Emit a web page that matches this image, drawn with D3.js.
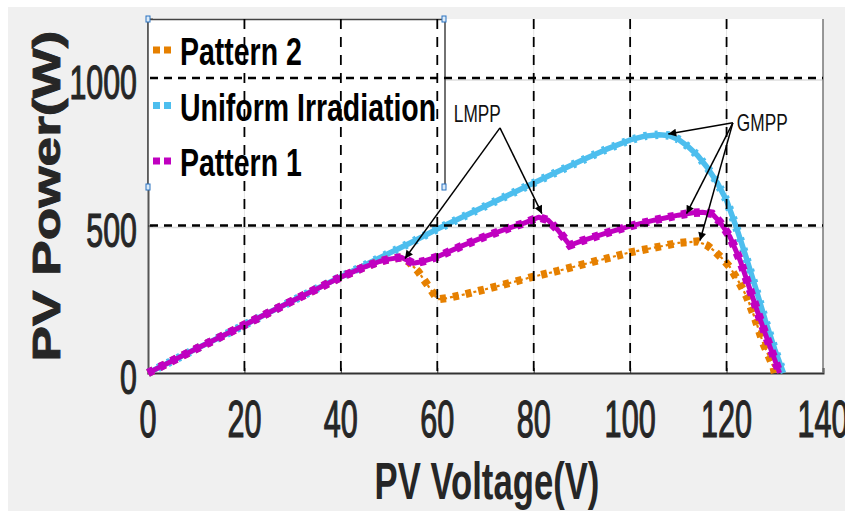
<!DOCTYPE html>
<html>
<head>
<meta charset="utf-8">
<script src="https://cdn.jsdelivr.net/npm/d3@7"></script>
<style>
  html, body { margin: 0; padding: 0; background: #fff; }
  svg { display: block; font-family: "Liberation Sans", Arial, sans-serif; }
</style>
</head>
<body>
<svg id="chart" width="845" height="511"></svg>
<script>
// Assi
const xTicks = [0, 20, 40, 60, 80, 100, 120, 140];
const yTicks = [0, 500, 1000];
const refX = [20, 40, 60, 80, 100, 120];   // linee tratteggiate verticali
const refY = [500, 1000];                  // linee tratteggiate orizzontali

// Uniform Irradiation
const uniformV = [0, 5, 10, 15, 20, 25, 30, 35, 40, 45, 50, 55, 60, 65, 70, 75, 80, 85, 90, 95, 100, 103, 106, 108, 110, 112, 114, 116, 118, 120, 122, 124, 126, 128, 130, 131.8];
const uniformP = [0, 41, 82, 122, 163, 204, 245, 286, 326, 366, 406, 446, 488, 527, 566, 605, 644, 683, 721, 758, 790, 803, 808, 805, 792, 768, 737, 697, 647, 585, 495, 395, 290, 180, 80, 0];

// Pattern 1
const pattern1V = [0, 5, 10, 15, 20, 25, 30, 35, 40, 45, 48, 50, 52.5, 55, 57, 60, 65, 70, 75, 78, 81, 83, 85, 87.5, 90, 95, 100, 105, 110, 113, 115, 117, 118.6, 120.7, 122.8, 124.9, 127, 129, 131];
const pattern1P = [0, 41, 82, 122, 163, 204, 245, 285, 325, 360, 378, 386, 392, 372, 378, 394, 430, 463, 492, 508, 528, 518, 485, 433, 448, 474, 498, 518, 535, 543, 545, 540, 512, 462, 382, 281, 180, 89, 0];

// Pattern 2
const pattern2V = [0, 5, 10, 15, 20, 25, 30, 35, 40, 45, 48, 50, 52.5, 54, 56, 58, 60, 62, 65, 70, 75, 80, 85, 90, 95, 100, 105, 110, 114, 116, 117.3, 119, 120.7, 122.5, 124.2, 126, 127.6, 129.7, 130];
const pattern2P = [0, 41, 82, 122, 163, 204, 245, 285, 325, 360, 378, 386, 392, 378, 345, 298, 250, 254, 264, 284, 305, 327, 346, 367, 388, 409, 425, 441, 446, 432, 416, 390, 359, 310, 258, 180, 100, 21, 0];

// Legenda
const legendNames = ["Pattern 2", "Uniform Irradiation", "Pattern 1"];
const legendColors = ["#e68000", "#4dbeee", "#c000c0"];

// Annotazioni: testo, posizione del testo, coda e punte delle frecce (V, W)
const annoText = ["LMPP", "GMPP"];
const annoPos = [[68.3, 850], [127.4, 820]];
const annoTail = [[73, 831], [121.3, 848]];
const annoTips = [
  [[53.3, 388], [81.7, 540]],
  [[107.9, 810], [111.7, 540], [114.5, 449]]
];

const svg = d3.select("#chart");
const W = 845, H = 511;

// scale
const x = d3.scaleLinear().domain([0, 140]).range([148, 823]);
const y = d3.scaleLinear().domain([0, 1200]).range([373, 19]);

// sfondo della figura
svg.append("rect").attr("width", W).attr("height", H).attr("fill", "#fff");
svg.append("rect").attr("x", 8).attr("y", 7).attr("width", W - 8).attr("height", H - 7).attr("fill", "#f0f0f0");
svg.append("rect")
  .attr("x", x(0)).attr("y", y(1200))
  .attr("width", x(140) - x(0)).attr("height", y(0) - y(1200))
  .attr("fill", "#fff");

// griglia grigia
svg.append("g").selectAll("line").data(xTicks.slice(1, -1)).join("line")
  .attr("x1", d => x(d)).attr("x2", d => x(d))
  .attr("y1", y(1200)).attr("y2", y(0))
  .attr("stroke", "#e3e3e3").attr("stroke-width", 1);
svg.append("g").selectAll("line").data(yTicks.slice(1)).join("line")
  .attr("x1", x(0)).attr("x2", x(140))
  .attr("y1", d => y(d) + 2).attr("y2", d => y(d) + 2)
  .attr("stroke", "#dcdcdc").attr("stroke-width", 1.5);

// assi con tick verso l'interno
svg.append("g")
  .attr("transform", "translate(0," + y(0) + ")")
  .call(d3.axisBottom(x).tickValues(xTicks).tickSize(-5).tickFormat(""))
  .call(g => g.select(".domain").attr("stroke", "#333").attr("stroke-width", 2))
  .call(g => g.selectAll(".tick line").attr("stroke", "#333"));
svg.append("g")
  .attr("transform", "translate(" + x(0) + ",0)")
  .call(d3.axisLeft(y).tickValues(yTicks).tickSize(-5).tickFormat(""))
  .call(g => g.select(".domain").attr("stroke", "#555").attr("stroke-width", 2))
  .call(g => g.selectAll(".tick line").attr("stroke", "#333"));
svg.append("line")
  .attr("x1", x(140)).attr("x2", x(140)).attr("y1", y(1200)).attr("y2", y(0))
  .attr("stroke", "#777").attr("stroke-width", 1.5);

// etichette dei tick (testo compresso come nell'originale)
svg.append("g").selectAll("text").data(xTicks).join("text")
  .attr("transform", d => "translate(" + x(d) + ",437) scale(0.6,1)")
  .attr("text-anchor", "middle")
  .attr("font-size", 51)
  .attr("fill", "#262626")
  .attr("stroke", "#262626").attr("stroke-width", 1.2)
  .text(d => d);
svg.append("g").selectAll("text").data(yTicks).join("text")
  .attr("transform", d => "translate(137," + (y(d) + 21) + ") scale(0.62,1)")
  .attr("text-anchor", "end")
  .attr("font-size", 49)
  .attr("fill", "#262626")
  .attr("stroke", "#262626").attr("stroke-width", 1.2)
  .text(d => d);

// titoli degli assi
svg.append("text")
  .attr("transform", "translate(487,499) scale(0.68,1)")
  .attr("text-anchor", "middle")
  .attr("font-size", 51)
  .attr("font-weight", "bold")
  .attr("fill", "#262626")
  .text("PV Voltage(V)");
svg.append("text")
  .attr("transform", "translate(60,196) rotate(-90) scale(1.4,1)")
  .attr("text-anchor", "middle")
  .attr("font-size", 38)
  .attr("font-weight", "bold")
  .attr("fill", "#262626")
  .attr("stroke", "#262626").attr("stroke-width", 0.8)
  .text("PV Power(W)");

// curve
const line = d3.line().x(d => x(d[0])).y(d => y(d[1]));
function drawSeries(V, P, color, base) {
  const pts = V.map((v, i) => [v, P[i]]);
  const g = svg.append("g");
  g.append("path").attr("d", line(pts))
    .attr("fill", "none").attr("stroke", color)
    .attr("stroke-width", base.width)
    .attr("stroke-dasharray", base.dash || null)
    .attr("stroke-linejoin", "round");
  // marcatori lungo la curva
  g.append("path").attr("d", line(pts))
    .attr("fill", "none").attr("stroke", color)
    .attr("stroke-width", base.mark)
    .attr("stroke-dasharray", base.markDash);
}
drawSeries(uniformV, uniformP, legendColors[1], { width: 5.5, mark: 8.5, markDash: "3,8" });
drawSeries(pattern2V, pattern2P, legendColors[0], { width: 2.2, dash: "3,3", mark: 8, markDash: "6,7" });
drawSeries(pattern1V, pattern1P, legendColors[2], { width: 5, mark: 8.5, markDash: "6,7" });

// legenda
const leg = svg.append("g");
leg.append("rect")
  .attr("x", 148).attr("y", 19).attr("width", 297).attr("height", 168)
  .attr("fill", "#fff");
leg.append("path")
  .attr("d", "M148,187 V19.5 H445 V187")
  .attr("fill", "none").attr("stroke", "#444").attr("stroke-width", 1.5);
svg.append("clipPath").attr("id", "legclip")
  .append("rect").attr("x", 148).attr("y", 19).attr("width", 293).attr("height", 168);
const legBase = [65, 120.5, 176];
legendNames.forEach((name, i) => {
  leg.append("line")
    .attr("x1", 153).attr("x2", 171)
    .attr("y1", legBase[i] - 15).attr("y2", legBase[i] - 15)
    .attr("stroke", legendColors[i]).attr("stroke-width", 7)
    .attr("stroke-dasharray", "7,4");
  leg.append("g").attr("clip-path", "url(#legclip)")
    .append("text")
    .attr("transform", "translate(180," + legBase[i] + ") scale(0.73,1)")
    .attr("font-size", 39)
    .attr("font-weight", "bold")
    .attr("fill", "#000")
    .text(name);
});
// maniglie di selezione della legenda
[[148, 19], [444, 19], [148, 187], [444, 187]].forEach(p => {
  leg.append("rect")
    .attr("x", p[0] - 2).attr("y", p[1] - 3).attr("width", 4).attr("height", 6)
    .attr("fill", "#dcebf8").attr("stroke", "#2a72c0").attr("stroke-width", 1);
});

// linee tratteggiate di riferimento
svg.append("g").selectAll("line").data(refX).join("line")
  .attr("x1", d => x(d)).attr("x2", d => x(d))
  .attr("y1", y(1200)).attr("y2", y(0))
  .attr("stroke", "#000").attr("stroke-width", 1.8)
  .attr("stroke-dasharray", "10,8");
svg.append("g").selectAll("line").data(refY).join("line")
  .attr("x1", x(0) + 2).attr("x2", x(140))
  .attr("y1", d => y(d)).attr("y2", d => y(d))
  .attr("stroke", "#000").attr("stroke-width", 2.5)
  .attr("stroke-dasharray", "8,6");

// frecce e testi delle annotazioni
svg.append("defs").append("marker")
  .attr("id", "arrow")
  .attr("viewBox", "0 0 10 10")
  .attr("refX", 10).attr("refY", 5)
  .attr("markerWidth", 11).attr("markerHeight", 8)
  .attr("markerUnits", "userSpaceOnUse")
  .attr("orient", "auto")
  .append("path").attr("d", "M0,0 L10,5 L0,10 z").attr("fill", "#000");

annoText.forEach((t, i) => {
  annoTips[i].forEach(tip => {
    svg.append("line")
      .attr("x1", x(annoTail[i][0])).attr("y1", y(annoTail[i][1]))
      .attr("x2", x(tip[0])).attr("y2", y(tip[1]))
      .attr("stroke", "#000").attr("stroke-width", 1.5)
      .attr("marker-end", "url(#arrow)");
  });
  svg.append("text")
    .attr("transform", "translate(" + x(annoPos[i][0]) + "," + y(annoPos[i][1]) + ") scale(0.75,1)")
    .attr("text-anchor", "middle")
    .attr("font-size", 23)
    .attr("fill", "#111")
    .text(t);
});
</script>
</body>
</html>
